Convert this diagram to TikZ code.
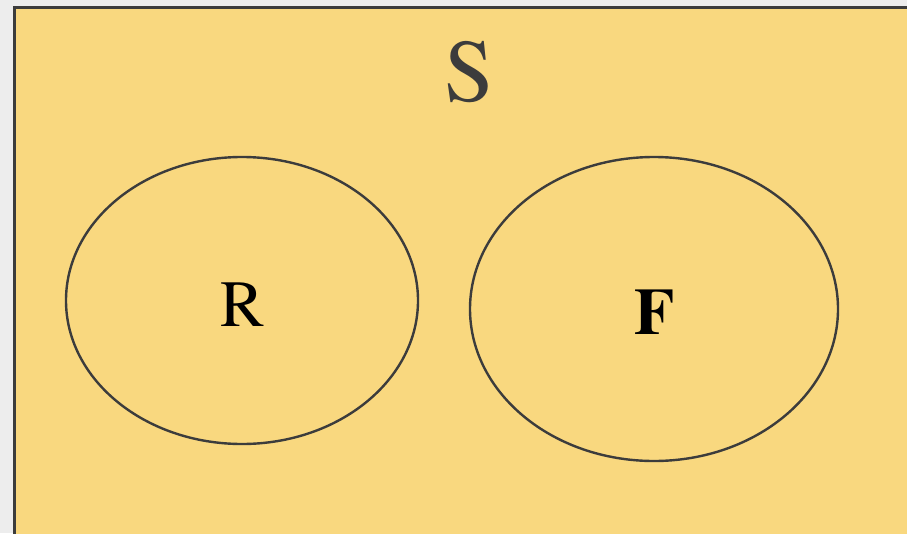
\documentclass[tikz,border=0pt]{standalone}
\usepackage{fontspec}
\setmainfont{TeX Gyre Termes}
\definecolor{pagebg}{RGB}{237,237,237}
\definecolor{setfill}{RGB}{249,216,127}
\definecolor{edge}{RGB}{60,60,60}
\begin{document}
\begin{tikzpicture}[x=1pt,y=-1pt,
  setline/.style={draw=edge,line width=2.4pt},
  label/.style={inner sep=0pt,anchor=center}]
  % page background and clipping frame
  \useasboundingbox (0,0) rectangle (907,533);
  \fill[pagebg] (0,0) rectangle (907,533);
  \clip (0,0) rectangle (907,533);
  % sample space S
  \draw[fill=setfill,draw=edge,line width=3pt] (14,7) rectangle (930,560);
  \node[label,text=edge,font=\fontsize{89}{89}\selectfont] (S) at (469,72) {S};
  % event R
  \draw[setline] (242,300.5) ellipse [x radius=176, y radius=143.5];
  \node[label,text=black,font=\fontsize{66}{66}\selectfont] (R) at (242.5,305) {R};
  % event F
  \draw[setline] (654,309) ellipse [x radius=184, y radius=152];
  \node[label,text=black,font=\fontsize{66}{66}\selectfont\bfseries] (F) at (655,312) {F};
\end{tikzpicture}
\end{document}
